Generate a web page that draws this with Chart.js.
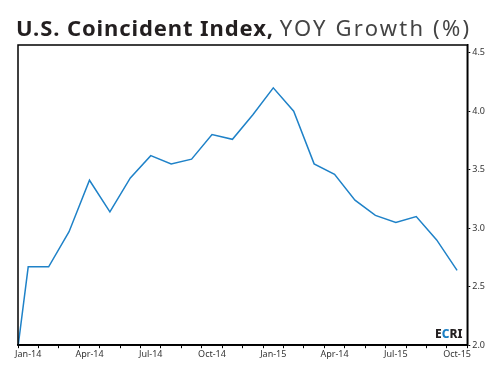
<!DOCTYPE html>
<html>
<head>
<meta charset="utf-8">
<script src="https://cdn.jsdelivr.net/npm/chart.js@4"></script>
<style>
  body { margin: 0; background: #fff; }
  #wrap { position: relative; width: 495px; height: 375px; }
  #title {
    position: absolute; left: 16px; top: 12px;
    font-family: "Noto Sans", sans-serif; font-size: 22px; color: #231f20;
    white-space: nowrap;
  }
  #title b { font-weight: 700; letter-spacing: 0.9px; }
  #title span { color: #444; font-weight: 400; letter-spacing: 2.2px; }
  #logo {
    position: absolute; left: 435px; top: 325px;
    font-family: "Noto Sans", sans-serif; font-size: 12px; font-weight: 800; color: #231f20;
  }
  #logo i { font-style: normal; color: #1b7fc4; }
</style>
</head>
<body>
<div id="wrap">
  <canvas id="canvas" width="495" height="375"></canvas>
  <div id="title"><b>U.S. Coincident Index,</b> <span>YOY Growth (%)</span></div>
  <div id="logo">E<i>C</i>RI</div>
</div>
<script>
// monthly YOY growth
// (Dec-13 sits just left of the frame, only its segment shows)
let months = ['Dec-13',
  'Jan-14','Feb-14','Mar-14','Apr-14','May-14','Jun-14','Jul-14','Aug-14','Sep-14','Oct-14','Nov-14','Dec-14',
  'Jan-15','Feb-15','Mar-15','Apr-15','May-15','Jun-15','Jul-15','Aug-15','Sep-15','Oct-15'];
let growth = [1.3,
  2.67, 2.67, 2.97, 3.41, 3.14, 3.43, 3.62, 3.55, 3.59, 3.80, 3.76, 3.97,
  4.20, 4.00, 3.55, 3.46, 3.24, 3.11, 3.05, 3.10, 2.90, 2.64];

// only every third month gets a label (as printed on the original)
let xTickLabels = ['',
  'Jan-14','','','Apr-14','','','Jul-14','','','Oct-14','','',
  'Jan-15','','','Apr-14','','','Jul-15','','','Oct-15'];
let yTicks = [2.0, 2.5, 3.0, 3.5, 4.0, 4.5];

// black frame round the plot
let frame = {
  id: 'frame',
  afterDraw(chart) {
    let a = chart.chartArea;
    let ctx = chart.ctx;
    ctx.save();
    ctx.strokeStyle = '#000';
    ctx.lineWidth = 1.5;
    ctx.strokeRect(a.left, a.top, a.right - a.left, a.bottom - a.top);
    ctx.restore();
  }
};

let tickFont = { family: 'Noto Sans', size: 9 };

let options = {
  type: 'line',
  data: {
    labels: months,
    datasets: [{
      data: growth,
      borderColor: '#1f82c8',
      borderWidth: 1.5,
      pointRadius: 0,
      fill: false,
      tension: 0
    }]
  },
  options: {
    responsive: false,
    animation: false,
    layout: { padding: { top: 45, left: 18, right: 8, bottom: 14 } },
    plugins: { legend: { display: false }, title: { display: false }, tooltip: { enabled: false } },
    scales: {
      x: {
        min: 'Jan-14',
        offset: true,
        grid: { offset: true, drawOnChartArea: false, tickLength: 3, color: '#000', lineWidth: 1 },
        border: { color: '#000', width: 1.5 },
        ticks: {
          autoSkip: false, maxRotation: 0, padding: 1,
          color: '#333', font: tickFont,
          callback: function(value) { return xTickLabels[value]; }
        }
      },
      y: {
        position: 'right',
        min: 2,
        max: 4.566,
        afterBuildTicks: function(axis) {
          axis.ticks = yTicks.map(function(v) { return { value: v }; });
        },
        grid: { drawOnChartArea: false, tickLength: 3, color: '#000', lineWidth: 1 },
        border: { color: '#000', width: 1.5 },
        ticks: {
          padding: 2, color: '#333', font: tickFont,
          callback: function(v) { return v.toFixed(1); }
        }
      }
    }
  },
  plugins: [frame]
};

let chart = new Chart(document.getElementById('canvas'), options);
</script>
</body>
</html>
